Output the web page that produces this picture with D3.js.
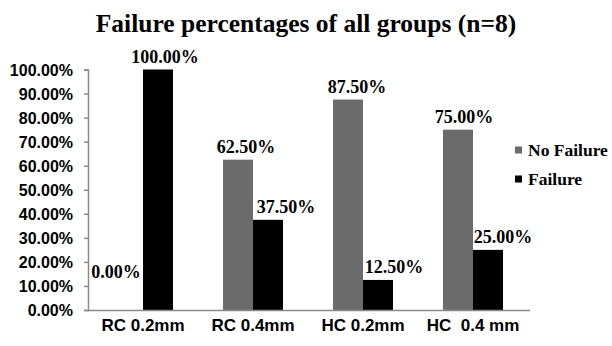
<!DOCTYPE html>
<html><head><meta charset="utf-8">
<script src="https://cdn.jsdelivr.net/npm/d3@7"></script>
<style>body{margin:0;background:#fff}svg{display:block}</style>
</head><body><svg id="c" width="612" height="346"></svg>
<script>
const categories = ["RC 0.2mm", "RC 0.4mm", "HC 0.2mm", "HC  0.4 mm"];
const series = ["No Failure", "Failure"];
const noFailure = [0.0, 0.625, 0.875, 0.75];
const failure = [1.0, 0.375, 0.125, 0.25];
const yTicks = [0, 0.1, 0.2, 0.3, 0.4, 0.5, 0.6, 0.7, 0.8, 0.9, 1.0];
const colors = ["#6b6b6b", "#000000"];
const title = "Failure percentages of all groups (n=8)";

(function () {
const svg = d3.select("#c");
const mLeft = 88, mRight = 528, mTop = 69.5, mBottom = 310;
const y = d3.scaleLinear().domain([0, 1]).range([mBottom, mTop]);
const x = d3.scaleBand().domain(categories).range([mLeft, mRight]).paddingInner(0.4545).paddingOuter(0.2273);
const xs = d3.scaleBand().domain(series).range([0, x.bandwidth()]);
const serif = "'Liberation Serif', 'Times New Roman', serif";
const sans = "'Liberation Sans', Arial, sans-serif";

svg.append("text").attr("x", 306).attr("y", 32).attr("text-anchor", "middle")
  .style("font-family", serif).style("font-weight", "bold")
  .style("font-size", "25.5px").attr("fill", "#000").text(title);

const vals = [noFailure, failure];
series.forEach((s, si) => {
  svg.append("g").selectAll("rect").data(vals[si]).join("rect")
    .attr("x", (d, i) => x(categories[i]) + xs(s))
    .attr("width", xs.bandwidth())
    .attr("y", d => y(d))
    .attr("height", d => mBottom - y(d))
    .attr("fill", colors[si]);
});

const ya = d3.axisLeft(y).tickValues(yTicks).tickSize(4).tickFormat(d => (d * 100).toFixed(2) + "%");
const yg = svg.append("g").attr("transform", `translate(${mLeft},0)`).call(ya);
yg.select(".domain").attr("stroke", "#8a8a8a").attr("stroke-width", 1.5);
yg.selectAll(".tick line").attr("stroke", "#8a8a8a").attr("stroke-width", 1.5);
yg.selectAll(".tick text").attr("x", -15).attr("dy", "0.35em").attr("fill", "#000")
  .style("font-family", sans).style("font-weight", "bold").style("font-size", "16px");

const xa = d3.axisBottom(x).tickSize(0);
const xg = svg.append("g").attr("transform", `translate(0,${mBottom})`).call(xa);
xg.select(".domain").attr("stroke", "#8a8a8a").attr("stroke-width", 1.5).attr("d", `M${mLeft},0.5H${mRight + 2}`);
xg.selectAll(".tick text").attr("y", 21).attr("dy", 0).attr("fill", "#000")
  .style("white-space", "pre")
  .style("font-family", sans).style("font-weight", "bold").style("font-size", "17px");

const labelShift = [[-12, 8, 9, 6], [7, 18, 16, 15]];
series.forEach((s, si) => {
  svg.append("g").selectAll("text").data(vals[si]).join("text")
    .attr("x", (d, i) => x(categories[i]) + xs(s) + xs.bandwidth() / 2 + labelShift[si][i])
    .attr("y", d => d === 0 ? 278 : y(d) - 7)
    .attr("text-anchor", "middle")
    .style("font-family", serif).style("font-weight", "bold").style("font-size", "18px")
    .attr("fill", "#000")
    .text(d => (d * 100).toFixed(2) + "%");
});

const lg = svg.append("g");
series.forEach((s, si) => {
  const cy = 150 + si * 29;
  lg.append("rect").attr("x", 515).attr("y", cy - 3.5).attr("width", 7).attr("height", 7).attr("fill", colors[si]);
  lg.append("text").attr("x", 528).attr("y", cy + 5.5)
    .style("font-family", serif).style("font-weight", "bold").style("font-size", "17.5px")
    .attr("fill", "#000").text(s);
});
})();
</script></body></html>
